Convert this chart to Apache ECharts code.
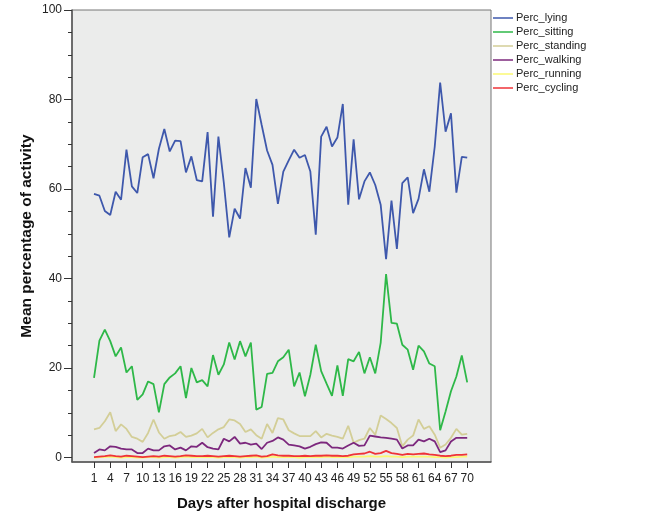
<!DOCTYPE html>
<html>
<head>
    <meta charset="utf-8">
    <title>Mean percentage of activity</title>
    <script src="https://cdn.jsdelivr.net/npm/echarts@6/dist/echarts.min.js"></script>
    <style>
        body {
            margin: 0;
            padding: 0;
            background-color: #ffffff;
        }
        #chart {
            width: 656px;
            height: 525px;
        }
    </style>
</head>
<body>
    <div id="chart"></div>

    <script>
        // days after discharge
        var days = [];
        for (var d = 1; d <= 70; d++) days.push(d);

        var xTicks = [1, 4, 7, 10, 13, 16, 19, 22, 25, 28, 31, 34, 37, 40, 43, 46, 49, 52, 55, 58, 61, 64, 67, 70];
        var yTicks = [0, 20, 40, 60, 80, 100];
        var yMinorTicks = [5, 10, 15, 25, 30, 35, 45, 50, 55, 65, 70, 75, 85, 90, 95];

        var lying = [58.9, 58.5, 55.1, 54.2, 59.4, 57.6, 68.8, 60.6, 59.1, 67.1,
                     67.8, 62.4, 69.0, 73.4, 68.4, 70.8, 70.7, 63.7, 67.3, 62.0,
                     61.7, 72.7, 53.8, 71.7, 61.4, 49.2, 55.6, 53.4, 64.7, 60.3,
                     80.1, 74.3, 68.6, 65.4, 56.7, 63.9, 66.4, 68.8, 67.0, 67.6,
                     63.9, 49.8, 71.7, 73.9, 69.5, 71.5, 79.0, 56.5, 71.1, 57.7,
                     61.7, 63.7, 60.9, 56.5, 44.3, 57.4, 46.6, 61.3, 62.6, 54.6,
                     57.8, 64.4, 59.4, 69.5, 83.8, 72.8, 76.9, 59.2, 67.2, 67.0];

        var sitting = [17.8, 26.1, 28.6, 26.0, 22.6, 24.6, 19.0, 20.4, 12.9, 14.1,
                       17.0, 16.4, 10.1, 16.4, 17.9, 18.8, 20.4, 13.3, 20.0, 16.8,
                       17.3, 15.9, 22.9, 18.5, 20.8, 25.7, 21.9, 26.0, 22.6, 25.7,
                       10.7, 11.3, 18.7, 18.9, 21.5, 22.4, 24.1, 15.9, 19.0, 13.7,
                       18.5, 25.2, 19.3, 16.5, 13.8, 20.6, 13.8, 22.0, 21.5, 23.6,
                       18.8, 22.4, 18.8, 25.6, 41.0, 30.1, 29.9, 25.2, 24.1, 19.6,
                       25.0, 23.7, 21.0, 20.4, 6.1, 10.3, 14.8, 18.1, 22.8, 16.8];

        var standing = [6.3, 6.6, 8.1, 10.1, 5.9, 7.4, 6.4, 4.6, 4.2, 3.5,
                        5.5, 8.5, 5.6, 4.2, 4.8, 5.0, 5.7, 4.6, 4.9, 5.4,
                        6.4, 4.5, 5.5, 6.3, 6.8, 8.5, 8.3, 7.5, 5.7, 6.3,
                        5.0, 4.2, 7.5, 5.5, 8.8, 8.5, 6.1, 5.4, 4.8, 4.8,
                        4.8, 5.9, 4.5, 5.3, 4.9, 4.6, 4.2, 7.1, 3.3, 3.9,
                        4.2, 6.6, 5.1, 9.4, 8.6, 7.7, 6.6, 2.5, 4.0, 4.9,
                        8.5, 6.4, 7.0, 5.1, 2.2, 2.9, 4.4, 6.4, 5.1, 5.3];

        var walking = [1.0, 1.8, 1.6, 2.5, 2.4, 2.0, 1.8, 1.8, 1.0, 1.0,
                       2.0, 1.6, 1.6, 2.5, 2.7, 1.8, 2.2, 1.6, 2.5, 2.4,
                       3.3, 2.3, 2.0, 1.8, 4.2, 3.6, 4.6, 3.1, 3.3, 2.9,
                       3.1, 1.9, 3.3, 3.7, 4.5, 4.0, 2.9, 2.7, 2.5, 2.0,
                       2.4, 3.0, 3.4, 3.3, 2.2, 2.2, 2.0, 2.7, 3.3, 2.6,
                       2.7, 4.9, 4.7, 4.5, 4.4, 4.2, 4.0, 2.0, 2.7, 2.7,
                       4.0, 3.6, 4.2, 3.6, 1.2, 1.6, 3.6, 4.4, 4.4, 4.4];

        var running = [0.0, 0.1, 0.1, 0.2, 0.1, 0.0, 0.1, 0.1, 0.0, 0.0,
                       0.1, 0.1, 0.0, 0.1, 0.1, 0.0, 0.1, 0.2, 0.1, 0.1,
                       0.1, 0.1, 0.1, 0.0, 0.1, 0.1, 0.1, 0.0, 0.1, 0.1,
                       0.2, 0.0, 0.1, 0.2, 0.1, 0.1, 0.1, 0.1, 0.0, 0.1,
                       0.1, 0.1, 0.1, 0.2, 0.1, 0.1, 0.1, 0.1, 0.2, 0.2,
                       0.2, 0.3, 0.2, 0.2, 0.3, 0.2, 0.2, 0.1, 0.2, 0.2,
                       0.2, 0.2, 0.2, 0.1, 0.1, 0.0, 0.1, 0.1, 0.2, 0.2];

        var cycling = [0.1, 0.2, 0.3, 0.5, 0.3, 0.2, 0.4, 0.3, 0.2, 0.1,
                       0.2, 0.3, 0.2, 0.4, 0.3, 0.2, 0.3, 0.5, 0.4, 0.3,
                       0.3, 0.4, 0.3, 0.2, 0.3, 0.4, 0.3, 0.2, 0.3, 0.4,
                       0.5, 0.2, 0.3, 0.7, 0.5, 0.4, 0.4, 0.3, 0.3, 0.4,
                       0.3, 0.4, 0.4, 0.5, 0.4, 0.4, 0.3, 0.4, 0.7, 0.8,
                       0.9, 1.3, 0.8, 1.0, 1.5, 1.0, 0.8, 0.6, 0.8, 0.7,
                       0.8, 0.9, 0.7, 0.6, 0.4, 0.3, 0.4, 0.6, 0.6, 0.7];

        var names = ['Perc_lying', 'Perc_sitting', 'Perc_standing', 'Perc_walking', 'Perc_running', 'Perc_cycling'];
        var colors = ['#3e58ac', '#2eb848', '#d3ce97', '#7c287d', '#fbf873', '#ef3338'];
        var values = [lying, sitting, standing, walking, running, cycling];

        function pairs(arr) {
            return days.map(function (d, i) { return [d, arr[i]]; });
        }

        var series = [];
        for (var s = 0; s < names.length; s++) {
            series.push({
                name: names[s],
                type: 'line',
                data: pairs(values[s]),
                symbol: 'none',
                silent: true,
                z: 2 + s,
                lineStyle: { width: 1.8, color: colors[s] },
                itemStyle: { color: colors[s] }
            });
        }

        var chart = echarts.init(document.getElementById('chart'));

        var option = {
            animation: false,
            textStyle: { fontFamily: 'Liberation Sans, Arial, sans-serif' },
            grid: {
                left: 72,
                top: 10,
                right: 165,
                bottom: 63,
                show: true,
                backgroundColor: '#ebeceb',
                borderColor: '#777777',
                borderWidth: 1
            },
            legend: {
                orient: 'vertical',
                left: 493,
                top: 11,
                padding: 0,
                icon: 'rect',
                itemWidth: 20,
                itemHeight: 1.5,
                itemGap: 0,
                data: names,
                textStyle: { fontSize: 11, color: '#222222', lineHeight: 14, padding: [0, 0, 0, -2] }
            },
            xAxis: {
                type: 'value',
                min: -3.07,
                max: 74.4,
                name: 'Days after hospital discharge',
                nameLocation: 'middle',
                nameGap: 34,
                nameMoveOverlap: false,
                nameTextStyle: { fontSize: 15, fontWeight: 'bold', color: '#111111' },
                axisLine: { show: true, onZero: false, lineStyle: { color: '#555555', width: 1.5 } },
                axisTick: { show: true, customValues: xTicks, length: 6, lineStyle: { color: '#333333' } },
                axisLabel: { customValues: xTicks, fontSize: 12, color: '#222222', margin: 11 },
                splitLine: { show: false }
            },
            yAxis: [{
                type: 'value',
                min: -1,
                max: 100,
                name: 'Mean percentage of activity',
                nameLocation: 'middle',
                nameGap: 37,
                nameMoveOverlap: false,
                nameTextStyle: { fontSize: 15.5, fontWeight: 'bold', color: '#111111' },
                axisLine: { show: true, onZero: false, lineStyle: { color: '#555555', width: 1.5 } },
                axisTick: { show: true, customValues: yTicks, length: 8, lineStyle: { color: '#333333' } },
                axisLabel: { customValues: yTicks, fontSize: 12, color: '#222222', margin: 10 },
                splitLine: { show: false }
            }, {
                type: 'value',
                min: -1,
                max: 100,
                position: 'left',
                axisLine: { show: false, onZero: false },
                axisTick: { show: true, customValues: yMinorTicks, length: 4, lineStyle: { color: '#333333' } },
                axisLabel: { show: false },
                splitLine: { show: false }
            }],
            series: series
        };

        chart.setOption(option);
    </script>
</body>
</html>
